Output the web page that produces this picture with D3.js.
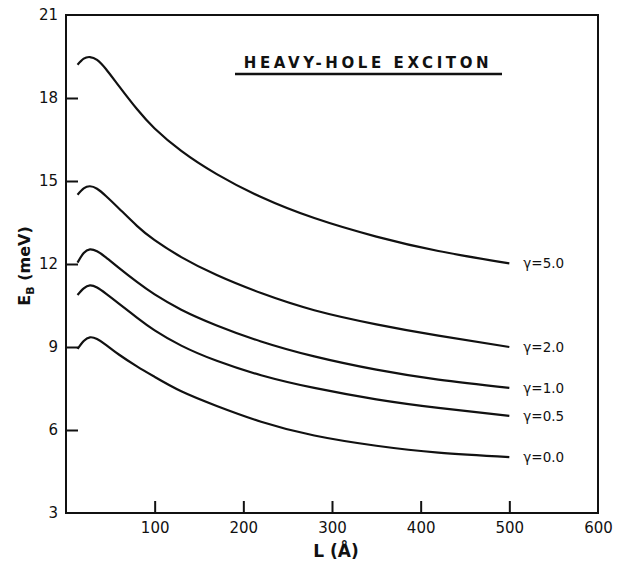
<!DOCTYPE html>
<html>
<head>
<meta charset="utf-8">
<script src="https://cdn.jsdelivr.net/npm/d3@7"></script>
<style>
body { margin: 0; background: #fff; }
text { font-family: "DejaVu Sans", sans-serif; fill: #111; }
</style>
</head>
<body>
<svg id="chart" width="631" height="563"></svg>
<script>
// E_B vs well width L, heavy-hole exciton, one curve per gamma

var xTicks = [100, 200, 300, 400, 500, 600];
var yTicks = [3, 6, 9, 12, 15, 18, 21];

var gammaLabels = ["\u03b3=5.0", "\u03b3=2.0", "\u03b3=1.0", "\u03b3=0.5", "\u03b3=0.0"];

// well widths L (A) where the curves were read
var widths = [13, 20, 27, 35, 45, 60, 80, 100, 130, 170, 220, 280, 350, 420, 500];

// E_B (meV) at those widths
var g50 = [19.2, 19.42, 19.48, 19.38, 19.05, 18.42, 17.6, 16.9, 16.09, 15.25, 14.42, 13.66, 12.99, 12.47, 12.02];
var g20 = [14.5, 14.73, 14.81, 14.72, 14.46, 14.0, 13.38, 12.86, 12.25, 11.6, 10.95, 10.33, 9.82, 9.41, 9.0];
var g10 = [12.05, 12.4, 12.53, 12.46, 12.24, 11.85, 11.35, 10.9, 10.35, 9.78, 9.2, 8.66, 8.18, 7.82, 7.52];
var g05 = [10.88, 11.12, 11.23, 11.15, 10.93, 10.56, 10.06, 9.6, 9.05, 8.5, 7.98, 7.52, 7.11, 6.8, 6.51];
var g00 = [8.93, 9.22, 9.35, 9.29, 9.08, 8.72, 8.3, 7.92, 7.4, 6.87, 6.3, 5.8, 5.43, 5.18, 5.02];

var series = [g50, g20, g10, g05, g00];

function draw() {
	var svg = d3.select("#chart");
	var mLeft = 66, mRight = 598, mTop = 15, mBottom = 513;

	var x = d3.scaleLinear().domain([0, 600]).range([mLeft, mRight]);
	var y = d3.scaleLinear().domain([3, 21]).range([mBottom, mTop]);

	var curves = series.map(s => s.map((e, i) => [widths[i], e]));

	// y axis, ticks pointing inwards
	var yAxis = svg.append("g")
		.attr("transform", "translate(" + mLeft + ",0)")
		.call(d3.axisLeft(y).tickValues(yTicks).tickSize(-12).tickPadding(8).tickFormat(d3.format("d")));
	yAxis.select(".domain").remove();
	yAxis.selectAll(".tick line").attr("stroke", "#111").attr("stroke-width", 2)
		.filter(d => d == 3 || d == 21).remove();
	yAxis.selectAll("text").attr("font-size", 15).style("fill", "#111");

	var xAxis = svg.append("g")
		.attr("transform", "translate(0," + mBottom + ")")
		.call(d3.axisBottom(x).tickValues(xTicks).tickSize(-12).tickPadding(8).tickFormat(d3.format("d")));
	xAxis.select(".domain").remove();
	xAxis.selectAll(".tick line").attr("stroke", "#111").attr("stroke-width", 2)
		.filter(d => d == 600).remove();
	xAxis.selectAll("text").attr("font-size", 15).attr("dy", "0.8em").style("fill", "#111");

	// frame
	svg.append("rect")
		.attr("x", mLeft).attr("y", mTop)
		.attr("width", mRight - mLeft).attr("height", mBottom - mTop)
		.attr("fill", "none").attr("stroke", "#111").attr("stroke-width", 2);

	var line = d3.line()
		.x(d => x(d[0]))
		.y(d => y(d[1]))
		.curve(d3.curveNatural);

	svg.append("g").selectAll("path")
		.data(curves)
		.enter().append("path")
		.attr("d", line)
		.attr("fill", "none")
		.attr("stroke", "#111")
		.attr("stroke-width", 2.2);

	svg.append("g").selectAll("text")
		.data(curves)
		.enter().append("text")
		.attr("x", c => x(c[c.length - 1][0]) + 14)
		.attr("y", c => y(c[c.length - 1][1]))
		.attr("dy", "0.35em")
		.attr("font-size", 13.5)
		.text((c, i) => gammaLabels[i]);

	// title with underline
	svg.append("text")
		.attr("x", 368).attr("y", 68)
		.attr("text-anchor", "middle")
		.attr("font-size", 15)
		.attr("font-weight", "bold")
		.attr("letter-spacing", 3.6)
		.text("HEAVY-HOLE EXCITON");
	svg.append("line")
		.attr("x1", 235).attr("x2", 502)
		.attr("y1", 74).attr("y2", 74)
		.attr("stroke", "#111").attr("stroke-width", 2.5);

	// axis titles
	var yl = svg.append("text")
		.attr("transform", "translate(30,266) rotate(-90)")
		.attr("text-anchor", "middle")
		.attr("font-size", 16)
		.attr("font-weight", "bold");
	yl.append("tspan").text("E");
	yl.append("tspan").attr("font-size", 11).attr("dy", 4).text("B");
	yl.append("tspan").attr("dy", -4).text(" (meV)");

	svg.append("text")
		.attr("x", 336).attr("y", 557)
		.attr("text-anchor", "middle")
		.attr("font-size", 17)
		.attr("font-weight", "bold")
		.text("L (\u00c5)");
}

draw();
</script>
</body>
</html>
